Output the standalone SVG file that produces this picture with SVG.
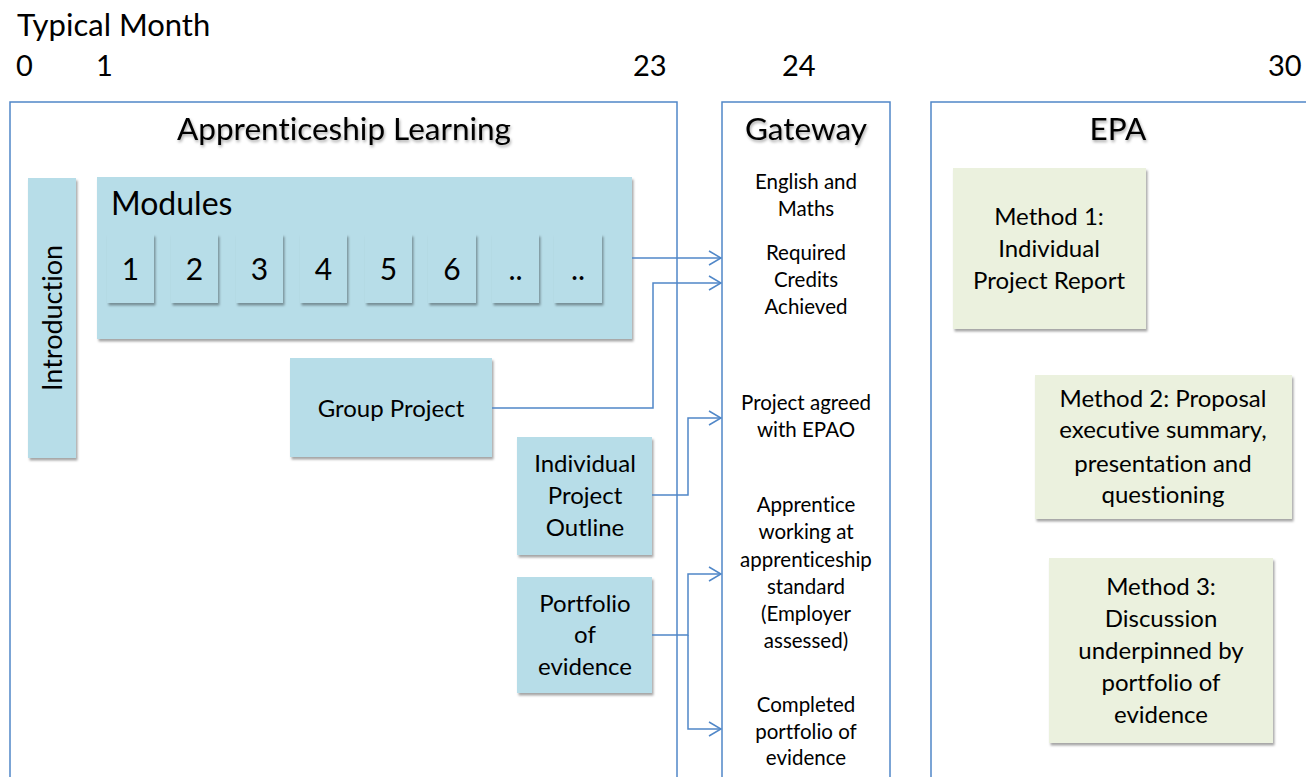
<svg xmlns="http://www.w3.org/2000/svg" width="1306" height="777" viewBox="0 0 1306 777">
  <defs>
    <style>
      text { font-family: Lato, "Open Sans", "Liberation Sans", sans-serif; fill: #000; font-variant-ligatures: none; font-feature-settings: "liga" 0; }
      .axis { font-size: 29px; }
      .head { font-size: 31px; }
      .title { font-size: 31.5px; text-anchor: middle; filter: url(#tshadow); }
      .gate { font-size: 20.5px; text-anchor: middle; }
      .box { font-size: 24px; text-anchor: middle; }
      .mod { font-size: 30px; text-anchor: middle; }
      .frame { fill: #fff; stroke: #5087c8; stroke-width: 1.5; }
      .blue { fill: #b7dde8; filter: url(#bshadow); }
      .green { fill: #ebf1de; filter: url(#bshadow); }
      .conn { fill: none; stroke: #5087c8; stroke-width: 1.5; }
    </style>
    <filter id="bshadow" x="-10%" y="-10%" width="130%" height="130%">
      <feDropShadow dx="1.5" dy="2.5" stdDeviation="1.2" flood-color="#000" flood-opacity="0.35"/>
    </filter>
    <filter id="tshadow" x="-10%" y="-30%" width="120%" height="160%">
      <feDropShadow dx="1" dy="2" stdDeviation="1.5" flood-color="#000" flood-opacity="0.35"/>
    </filter>
    <marker id="arrow" markerWidth="14" markerHeight="16" refX="13" refY="8" orient="auto" markerUnits="userSpaceOnUse">
      <path d="M1,1 L13,8 L1,15" fill="none" stroke="#5087c8" stroke-width="1.5"/>
    </marker>
  </defs>

  <!-- timeline header -->
  <g id="timeline">
    <text class="head" x="17" y="36">Typical Month</text>
    <text class="axis" x="16" y="76">0</text>
    <text class="axis" x="96" y="76">1</text>
    <text class="axis" x="633" y="76">23</text>
    <text class="axis" x="782" y="76">24</text>
    <text class="axis" x="1268" y="76">30</text>
  </g>

  <!-- phase frames -->
  <g id="frame-learning">
    <rect class="frame" x="10" y="102" width="667" height="690"/>
    <text class="title" x="344" y="140">Apprenticeship Learning</text>
  </g>
  <g id="frame-gateway">
    <rect class="frame" x="722" y="102" width="168" height="690"/>
    <text class="title" x="806" y="140">Gateway</text>
    <text class="gate" x="806" y="189">English and</text>
    <text class="gate" x="806" y="216">Maths</text>
    <text class="gate" x="806" y="260">Required</text>
    <text class="gate" x="806" y="287">Credits</text>
    <text class="gate" x="806" y="314">Achieved</text>
    <text class="gate" x="806" y="410">Project agreed</text>
    <text class="gate" x="806" y="437">with EPAO</text>
    <text class="gate" x="806" y="512">Apprentice</text>
    <text class="gate" x="806" y="539">working at</text>
    <text class="gate" x="806" y="567">apprenticeship</text>
    <text class="gate" x="806" y="594">standard</text>
    <text class="gate" x="806" y="621">(Employer</text>
    <text class="gate" x="806" y="648">assessed)</text>
    <text class="gate" x="806" y="712">Completed</text>
    <text class="gate" x="806" y="739">portfolio of</text>
    <text class="gate" x="806" y="765">evidence</text>
  </g>
  <g id="frame-epa">
    <rect class="frame" x="931" y="102" width="390" height="690"/>
    <text class="title" x="1118" y="140">EPA</text>
  </g>

  <!-- learning activities -->
  <g id="introduction">
    <rect class="blue" x="28" y="178" width="48" height="280"/>
    <text class="box" style="font-size:27px" transform="translate(62,318) rotate(-90)">Introduction</text>
  </g>
  <g id="modules">
    <rect class="blue" x="97" y="177" width="535" height="162"/>
    <text class="head" style="font-size:32px" x="111" y="215">Modules</text>
    <rect class="blue" x="107" y="234" width="47" height="69"/>
    <text class="mod" x="130.5" y="280">1</text>
    <rect class="blue" x="171" y="234" width="47" height="69"/>
    <text class="mod" x="194.5" y="280">2</text>
    <rect class="blue" x="236" y="234" width="47" height="69"/>
    <text class="mod" x="259.5" y="280">3</text>
    <rect class="blue" x="300" y="234" width="47" height="69"/>
    <text class="mod" x="323.5" y="280">4</text>
    <rect class="blue" x="365" y="234" width="47" height="69"/>
    <text class="mod" x="388.5" y="280">5</text>
    <rect class="blue" x="428" y="234" width="48" height="69"/>
    <text class="mod" x="452" y="280">6</text>
    <rect class="blue" x="492" y="234" width="47" height="69"/>
    <text class="mod" x="515.5" y="280">..</text>
    <rect class="blue" x="554" y="234" width="48" height="69"/>
    <text class="mod" x="578" y="280">..</text>
  </g>
  <g id="group-project">
    <rect class="blue" x="290" y="358" width="202" height="99"/>
    <text class="box" x="391" y="417">Group Project</text>
  </g>
  <g id="individual-project-outline">
    <rect class="blue" x="517" y="437" width="135" height="118"/>
    <text class="box" x="585" y="472">Individual</text>
    <text class="box" x="585" y="504">Project</text>
    <text class="box" x="585" y="536">Outline</text>
  </g>
  <g id="portfolio">
    <rect class="blue" x="517" y="577" width="135" height="116"/>
    <text class="box" x="585" y="612">Portfolio</text>
    <text class="box" x="585" y="643">of</text>
    <text class="box" x="585" y="675">evidence</text>
  </g>

  <!-- end-point assessment methods -->
  <g id="method-1">
    <rect class="green" x="953" y="168" width="193" height="161"/>
    <text class="box" x="1049" y="225">Method 1:</text>
    <text class="box" x="1049" y="257">Individual</text>
    <text class="box" x="1049" y="289">Project Report</text>
  </g>
  <g id="method-2">
    <rect class="green" x="1035" y="375" width="257" height="144"/>
    <text class="box" x="1163" y="407">Method 2: Proposal</text>
    <text class="box" x="1163" y="438">executive summary,</text>
    <text class="box" x="1163" y="472">presentation and</text>
    <text class="box" x="1163" y="503">questioning</text>
  </g>
  <g id="method-3">
    <rect class="green" x="1049" y="558" width="224" height="185"/>
    <text class="box" x="1161" y="595">Method 3:</text>
    <text class="box" x="1161" y="627">Discussion</text>
    <text class="box" x="1161" y="659">underpinned by</text>
    <text class="box" x="1161" y="691">portfolio of</text>
    <text class="box" x="1161" y="723">evidence</text>
  </g>

  <!-- connectors into the gateway -->
  <g id="connectors">
    <path class="conn" d="M632,258 H721" marker-end="url(#arrow)"/>
    <path class="conn" d="M492,408 H653 V283 H721" marker-end="url(#arrow)"/>
    <path class="conn" d="M652,495 H688 V418 H721" marker-end="url(#arrow)"/>
    <path class="conn" d="M652,635 H688 V574 H721" marker-end="url(#arrow)"/>
    <path class="conn" d="M688,635 V729 H721" marker-end="url(#arrow)"/>
  </g>
</svg>
